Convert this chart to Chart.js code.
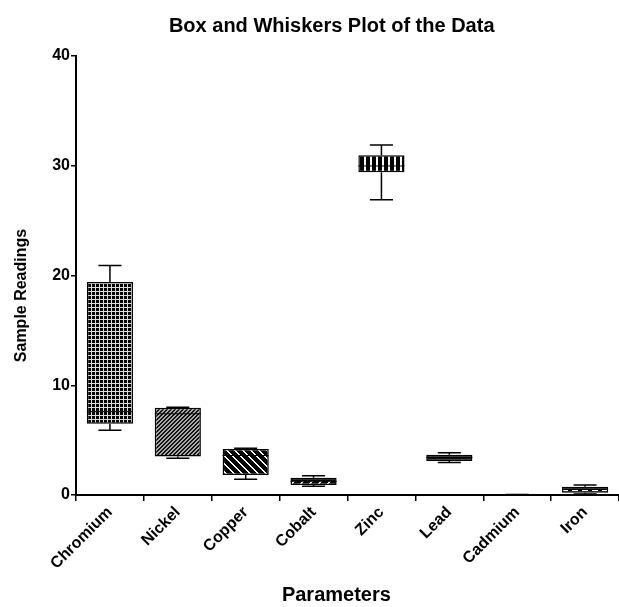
<!DOCTYPE html>
<html>
<head>
<meta charset="utf-8">
<script src="https://cdn.jsdelivr.net/npm/chart.js@4.4.1/dist/chart.umd.min.js"></script>
<style>
  body { margin: 0; background: #fff; }
  #boxCanvas { display: block; }
</style>
</head>
<body>
<canvas id="boxCanvas" width="619" height="607"></canvas>
<script>
const categories = ['Chromium', 'Nickel', 'Copper', 'Cobalt', 'Zinc', 'Lead', 'Cadmium', 'Iron'];
const minValues    = [5.9,  3.35, 1.43, 0.8,  26.9,  2.95, 0.0,  0.09];
const q1Values     = [6.5,  3.5,  1.82, 0.9,  29.4,  3.1,  0.01, 0.21];
const medianValues = [7.6,  7.4,  3.6,  1.25, 29.98, 3.4,  0.02, 0.5];
const q3Values     = [19.4, 7.95, 4.2,  1.58, 30.95, 3.67, 0.03, 0.76];
const maxValues    = [20.9, 8.0,  4.25, 1.75, 31.9,  3.85, 0.04, 0.91];
const yTicks = [0, 10, 20, 30, 40];

Chart.defaults.font.family = '"Liberation Sans", Arial, sans-serif';
Chart.defaults.color = '#000';

function makePattern(w, h, draw) {
  const c = document.createElement('canvas');
  c.width = w;
  c.height = h;
  const g = c.getContext('2d');
  draw(g, w, h);
  return g.createPattern(c, 'repeat');
}

// fills, one for each box
const patterns = [
  // grid
  makePattern(4, 4, (g) => {
    g.fillStyle = '#000'; g.fillRect(0, 0, 4, 4);
    g.fillStyle = '#ddd'; g.fillRect(3, 0, 1, 4); g.fillRect(0, 3, 4, 1);
  }),
  // fine hatch
  makePattern(4, 4, (g) => {
    g.fillStyle = '#aaa'; g.fillRect(0, 0, 4, 4);
    g.fillStyle = '#111';
    for (let i = 0; i < 4; i++) { g.fillRect(i, 3 - i, 1, 1); g.fillRect((i + 1) % 4, 3 - i, 1, 1); }
  }),
  // wide "\" stripes
  makePattern(8, 8, (g) => {
    g.fillStyle = '#000'; g.fillRect(0, 0, 8, 8);
    g.fillStyle = '#fff';
    for (let i = 0; i < 8; i++) { g.fillRect(i, i, 1, 1); g.fillRect((i + 1) % 8, i, 1, 1); }
  }),
  // slanted dashes
  makePattern(9, 6, (g) => {
    g.fillStyle = '#000'; g.fillRect(0, 0, 9, 6);
    g.fillStyle = '#fff';
    for (let i = 0; i < 4; i++) { g.fillRect(2 + i, 4 - i, 2, 1); }
  }),
  // vertical stripes
  makePattern(6, 2, (g) => {
    g.fillStyle = '#000'; g.fillRect(0, 0, 6, 2);
    g.fillStyle = '#fff'; g.fillRect(4, 0, 2, 2);
  }),
  '#111',
  '#000',
  // horizontal dashes
  makePattern(10, 4, (g) => {
    g.fillStyle = '#000'; g.fillRect(0, 0, 10, 4);
    g.fillStyle = '#fff'; g.fillRect(2, 2, 6, 1);
  })
];

const whiskerPlugin = {
  id: 'whiskers',
  afterDatasetsDraw(chart) {
    const ctx = chart.ctx;
    const y = chart.scales.y;
    const meta = chart.getDatasetMeta(0);
    ctx.save();
    ctx.strokeStyle = '#000';
    ctx.lineWidth = 1.5;
    meta.data.forEach((bar, i) => {
      const x = bar.x;
      const half = bar.width / 2;
      const cap = bar.width / 4;
      const yMin = y.getPixelForValue(minValues[i]);
      const yQ1 = y.getPixelForValue(q1Values[i]);
      const yMed = y.getPixelForValue(medianValues[i]);
      const yQ3 = y.getPixelForValue(q3Values[i]);
      const yMax = y.getPixelForValue(maxValues[i]);
      ctx.beginPath();
      ctx.moveTo(x, yMax); ctx.lineTo(x, yQ3);
      ctx.moveTo(x, yQ1); ctx.lineTo(x, yMin);
      ctx.moveTo(x - cap, yMax); ctx.lineTo(x + cap, yMax);
      ctx.moveTo(x - cap, yMin); ctx.lineTo(x + cap, yMin);
      ctx.stroke();
      ctx.beginPath();
      ctx.lineWidth = 1;
      ctx.moveTo(x - half, yMed); ctx.lineTo(x + half, yMed);
      ctx.stroke();
      ctx.lineWidth = 1.5;
    });
    ctx.restore();
  }
};

const boxChart = new Chart(document.getElementById('boxCanvas').getContext('2d'), {
  type: 'bar',
  data: {
    labels: categories,
    datasets: [{
      label: 'Sample Readings',
      data: categories.map((_, i) => [q1Values[i], q3Values[i]]),
      backgroundColor: patterns,
      borderColor: '#000',
      borderWidth: 1.5,
      borderSkipped: false,
      categoryPercentage: 1,
      barPercentage: 0.68
    }]
  },
  options: {
    responsive: false,
    animation: false,
    devicePixelRatio: 1,
    layout: { padding: 0 },
    plugins: {
      legend: { display: false },
      tooltip: { enabled: false },
      title: {
        display: true,
        text: '        Box and Whiskers Plot of the Data',
        font: { size: 20, weight: 'bold' },
        padding: { top: 14, bottom: 18 }
      }
    },
    scales: {
      x: {
        afterFit: (scale) => { scale.height = 112; },
        grid: { display: true, drawOnChartArea: false, color: '#000', lineWidth: 1.5, tickLength: 6 },
        border: { color: '#000', width: 2 },
        ticks: { font: { size: 16, weight: 'bold' }, minRotation: 45, maxRotation: 45, padding: 2 },
        title: {
          display: true,
          text: 'Parameters    ',
          font: { size: 20, weight: 'bold' },
          padding: { top: 0, bottom: 0 }
        }
      },
      y: {
        min: 0,
        max: 40,
        afterFit: (scale) => { scale.width = 76; },
        afterBuildTicks: (scale) => { scale.ticks = yTicks.map(v => ({ value: v })); },
        grid: { display: true, drawOnChartArea: false, color: '#000', lineWidth: 1.5, tickLength: 5 },
        border: { color: '#000', width: 2 },
        ticks: { font: { size: 16, weight: 'bold' }, padding: 1 },
        title: {
          display: true,
          text: 'Sample Readings         ',
          font: { size: 16, weight: 'bold' },
          padding: { top: 12, bottom: 0 }
        }
      }
    }
  },
  plugins: [whiskerPlugin]
});
</script>
</body>
</html>
